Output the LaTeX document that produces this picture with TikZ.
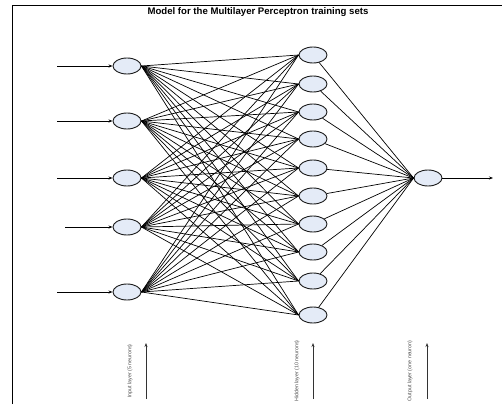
\documentclass[tikz,border=0pt]{standalone}
\usepackage{fontspec}
\setmainfont{Liberation Sans}
\usetikzlibrary{arrows.meta,shapes.geometric}
\definecolor{neuronfill}{RGB}{228,235,247}

\begin{document}
\begin{tikzpicture}[x=1pt,y=-1pt,>=Stealth,
  neuron/.style={ellipse,draw=black!90,fill=neuronfill,line width=0.9pt,
    minimum width=28pt,minimum height=16pt,inner sep=0pt},
  layerlabel/.style={rotate=90,font=\fontsize{5.3}{6}\selectfont,text=black!70,inner sep=0pt}]
  \useasboundingbox (0,0) rectangle (502,404);
  \draw[line width=0.8pt] (12,404) -- (12,5) -- (502,5);
  \node[font=\bfseries\fontsize{9.6}{11}\selectfont] (title) at (258,12)
    {Model for the Multilayer Perceptron training sets};

  % input layer
  \foreach \i/\y/\x in {1/66/57,2/121/57,3/178/57,4/227/65,5/292/57} {
    \node[neuron] (in\i) at (127,\y) {};
    \coordinate (src\i) at (\x,\y);
    \draw[-{Stealth[length=4pt]},line width=0.8pt] (src\i) -- (in\i);
  }
  % hidden layer
  \foreach \j/\y in {1/55,2/84,3/112,4/139,5/168,6/196,7/224,8/252,9/281,10/315}
    \node[neuron] (hid\j) at (313,\y) {};
  % output layer
  \node[neuron] (out) at (428,178) {};
  \coordinate (sink) at (493,178);
  \draw[-{Stealth[length=4pt]},line width=0.8pt] (out) -- (sink);

  \foreach \i in {1,...,5}
    \foreach \j in {1,...,10}
      \draw[line width=0.7pt] (in\i.east) -- (hid\j.west);
  \foreach \j in {1,...,10}
    \draw[line width=0.7pt] (hid\j) -- (out.west);

  % layer captions
  \foreach \n/\x/\lx/\txt in {inp/146/130/Input layer (5 neurons),
      hid/313/297/Hidden layer (10 neurons),outp/427/410/Output layer (one neuron)} {
    \coordinate (\n base) at (\x,399);
    \coordinate (\n tip) at (\x,343);
    \draw[-{Stealth[length=4pt,width=3pt]},line width=0.9pt,black!80] (\n base) -- (\n tip);
    \node[layerlabel] (\n cap) at (\lx,371) {\txt};
  }
\end{tikzpicture}
\end{document}
